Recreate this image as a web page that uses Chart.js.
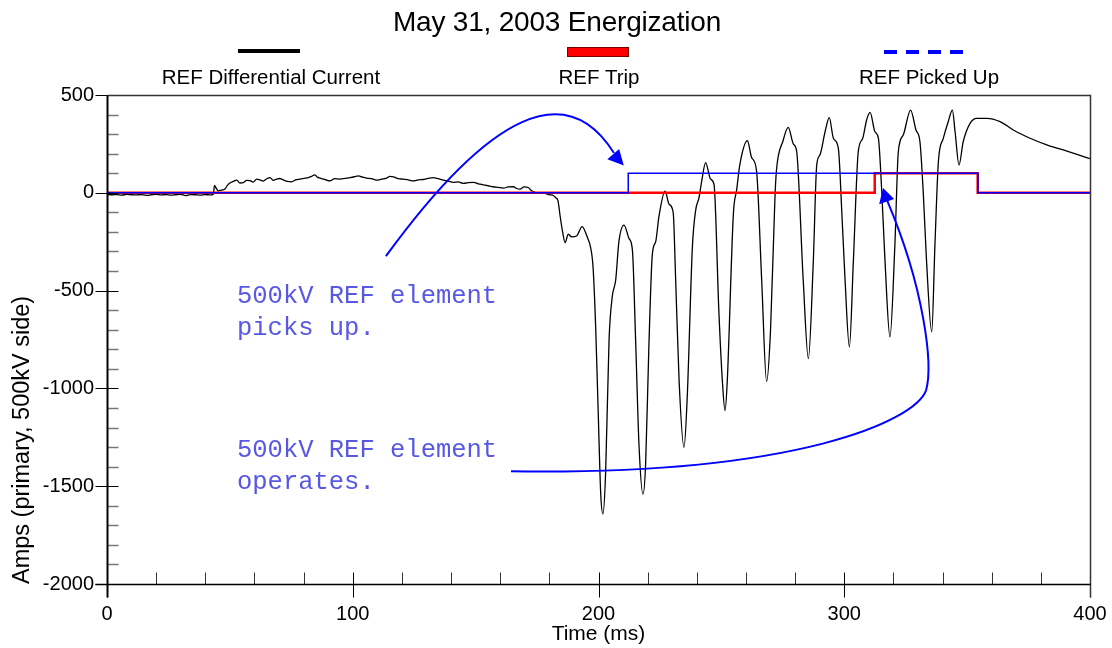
<!DOCTYPE html>
<html><head><meta charset="utf-8">
<script src="https://cdn.jsdelivr.net/npm/chart.js@4.4.1/dist/chart.umd.min.js"></script>
<style>
html,body{margin:0;padding:0;background:#fff;}
#wrap{position:relative;width:1112px;height:648px;overflow:hidden;}
#c{position:absolute;left:0;top:0;}
.t{position:absolute;font-family:"Liberation Sans",Arial,sans-serif;color:#000;white-space:nowrap;transform:translateX(-50%);line-height:1;}
.s{position:absolute;}
</style></head><body>
<div id="wrap">
<canvas id="c" width="1112" height="648"></canvas>
<div class="t" style="left:557px;top:8px;font-size:28px;letter-spacing:-0.2px;">May 31, 2003 Energization</div>
<div class="s" style="left:238px;top:49px;width:62px;height:4px;background:#000;"></div>
<div class="s" style="left:567px;top:47px;width:60px;height:8px;background:#ff0000;border:1px solid #700;"></div>
<div class="s" style="left:884px;top:50px;width:81px;height:4px;background:repeating-linear-gradient(to right,#0000ff 0 13px,transparent 13px 22px);"></div>
<div class="t" style="left:271px;top:67px;font-size:20.5px;">REF Differential Current</div>
<div class="t" style="left:599px;top:67px;font-size:20.5px;">REF Trip</div>
<div class="t" style="left:929px;top:67px;font-size:20.5px;">REF Picked Up</div>
</div>
<script>
// ---- data ----
const xTicks = [0, 100, 200, 300, 400];
const yTicks = [500, 0, -500, -1000, -1500, -2000];

const diffTime = [
 0,2,4,6,8,10,12,14,16,18,20,22,24,26,28,30,32,34,36,38,40,42,43.3,
 43.7,44.5,45.3,46.6,48.0,49.0,50.0,51.4,52.8,54.1,55.5,56.8,58.2,59.5,60.9,62.2,63.6,65.0,66.3,67.6,69.0,70.3,71.7,73.4,75.1,76.8,78.5,80.2,81.9,83.2,84.6,85.6,86.7,88.7,90.7,92.7,94.8,96.8,98.9,100.6,102.3,104.0,105.7,107.7,109.7,111.7,113.8,115.1,116.5,118.5,120.6,122.6,124.7,126.7,128.7,130.7,132.8,134.8,136.9,138.9,140.9,142.9,145.0,147.0,149.1,151.1,153.1,155.1,157.2,159.2,161.3,163.3,165.4,166.7,168.1,169.7,171.4,172.4,173.5,175.5,177.6,179.0,180.3,181.7,182.6,183.5,184.4,185.4,186.4,187.7,189.0,191.1,193.3,195.5,196.8,197.8,198.9,199.9,200.9,201.8,202.9,204.3,205.6,207.0,208.3,210.4,212.4,213.8,215.1,216.5,218.1,219.2,220.5,221.9,223.3,224.6,227.1,228.7,230.4,231.4,232.8,234.8,236.1,238.2,239.5,240.9,242.0,243.6,245.6,247.0,249.0,250.4,251.5,252.4,254.9,256.2,257.6,260.6,262.3,264.3,266.4,268.4,270.0,271.8,272.4,275.1,277.2,279.3,280.6,283.3,285.4,287.4,288.8,290.1,292.2,293.9,295.6,297.6,299.0,300.3,302.1,303.7,305.7,307.5,309.1,310.5,312.5,313.9,315.2,316.6,318.6,320.6,322.0,324.0,327.0,329.2,330.8,332.2,333.5,335.6,336.9,338.3,340.3,342.3,344.0,345.1,346.7,348.4,351.2,353.9,358.0,363.4,368.8,375.6,382.4,389.1,395.0,400
];
const diffAmps = [
 -8,-10,-9,-12,-8,-10,-11,-9,-13,-10,-8,-11,-9,-12,-10,-8,-14,-9,-10,-12,-9,-11,-7,
 38,22,10,14,19,38,50,58,65,50,52,64,62,55,70,66,60,72,78,64,70,73,66,58,56,66,70,74,78,84,92,80,75,68,61,72,70,74,78,82,87,80,75,72,65,70,75,84,82,72,70,66,61,66,68,74,78,72,65,60,53,56,48,52,53,46,41,36,31,28,24,30,31,22,19,30,27,14,5,0,-2,-6,-10,-15,-25,-40,-120,-200,-255,-212,-225,-221,-173,-229,-280,-383,-705,-1130,-1537,-1641,-1431,-752,-531,-446,-250,-165,-233,-293,-752,-1296,-1541,-1380,-786,-316,-248,-121,9,-58,-101,-446,-961,-1302,-1047,-279,-92,-25,60,154,70,43,-613,-961,-1114,-961,-105,14,150,266,181,113,-446,-965,-704,-25,113,266,334,249,215,-446,-848,-353,142,193,312,384,278,227,-97,-438,-788,-353,210,278,372,411,312,278,22,-353,-737,-268,210,295,423,321,261,-12,-353,-711,-268,159,278,363,423,312,142,261,355,381,381,364,321,279,245,219,195,175
];

const tripTime = [0, 312.4, 312.4, 354.3, 354.3, 400];
const tripVal  = [0, 0, 100, 100, 0, 0];
const pickTime = [0, 212.1, 212.1, 354.4, 354.4, 400];
const pickVal  = [0, 0, 100, 100, 0, 0];

// ---- annotations (data units) ----
const annoTexts = [
  {t: 52.9, v: [-529, -692], lines: ['500kV REF element', 'picks up.']},
  {t: 52.9, v: [-1317, -1478], lines: ['500kV REF element', 'operates.']}
];
const arrowPick = {quad: [[113.5,-324],[177.5,781],[206.3,203]], head: [[210.3,140],[203.6,172],[208.4,224]]};
const arrowTrip = {cubics: [
  [[164.4,-1424],[282.0,-1445],[328.8,-1163],[333.3,-1010]],
  [[333.3,-1010],[336.1,-882],[332.9,-498],[317.4,-37]]
], head: [[315.8,24],[314.2,-58],[320.3,-32]]};

const zip = (a,b) => a.map((x,i)=>({x, y:b[i]}));

const framePlugin = {
  id: 'frame',
  afterDatasetsDraw(chart) {
    const {ctx, chartArea: a, scales: {x, y}} = chart;
    const L = Math.round(a.left)+0.5, R = Math.round(a.right)+0.5, T = Math.round(a.top)+0.5, B = Math.round(a.bottom)+0.5;
    ctx.save();
    for (let v = -2000; v <= 500; v += 100) {
      const p = Math.round(y.getPixelForValue(v)) + 0.5;
      ctx.beginPath();
      if (v % 500 === 0) { ctx.strokeStyle = '#000'; ctx.lineWidth = 1; ctx.moveTo(L-12, p); ctx.lineTo(v===500||v===-2000 ? L : L+11, p); }
      else { ctx.strokeStyle = '#777'; ctx.lineWidth = 1.5; ctx.moveTo(L, p); ctx.lineTo(L+11, p); }
      ctx.stroke();
    }
    for (let t = 0; t <= 400; t += 20) {
      const p = Math.round(x.getPixelForValue(t)) + 0.5;
      ctx.beginPath();
      ctx.strokeStyle = t % 100 === 0 ? '#000' : '#333';
      ctx.lineWidth = 1;
      ctx.moveTo(p, B-12); ctx.lineTo(p, t % 100 === 0 ? B+13 : B);
      ctx.stroke();
    }
    ctx.strokeStyle = '#333'; ctx.lineWidth = 1.5;
    ctx.beginPath(); ctx.moveTo(L, T); ctx.lineTo(R, T); ctx.lineTo(R, B+13); ctx.stroke();
    ctx.strokeStyle = '#000'; ctx.lineWidth = 1.5;
    ctx.beginPath(); ctx.moveTo(L-12, B); ctx.lineTo(R, B); ctx.stroke();
    ctx.lineWidth = 2;
    ctx.beginPath(); ctx.moveTo(L, T); ctx.lineTo(L, B+13); ctx.stroke();
    ctx.restore();
  }
};

const annoPlugin = {
  id: 'anno',
  afterDraw(chart) {
    const {ctx, scales: {x, y}} = chart;
    const P = (pt) => [x.getPixelForValue(pt[0]), y.getPixelForValue(pt[1])];
    ctx.save();
    ctx.strokeStyle = '#0000ff'; ctx.fillStyle = '#0000ff'; ctx.lineWidth = 2;
    let q = arrowPick.quad.map(P);
    ctx.beginPath(); ctx.moveTo(...q[0]); ctx.quadraticCurveTo(...q[1], ...q[2]); ctx.stroke();
    let h = arrowPick.head.map(P);
    ctx.beginPath(); ctx.moveTo(...h[0]); ctx.lineTo(...h[1]); ctx.lineTo(...h[2]); ctx.closePath(); ctx.fill();
    ctx.beginPath();
    arrowTrip.cubics.forEach((c, i) => {
      const p = c.map(P);
      if (i === 0) ctx.moveTo(...p[0]);
      ctx.bezierCurveTo(...p[1], ...p[2], ...p[3]);
    });
    ctx.stroke();
    h = arrowTrip.head.map(P);
    ctx.beginPath(); ctx.moveTo(...h[0]); ctx.lineTo(...h[1]); ctx.lineTo(...h[2]); ctx.closePath(); ctx.fill();
    ctx.fillStyle = '#5858e4';
    ctx.font = '25.5px "Liberation Mono", "DejaVu Sans Mono", monospace';
    ctx.textBaseline = 'middle'; ctx.textAlign = 'left';
    annoTexts.forEach(a => a.lines.forEach((s, i) => ctx.fillText(s, x.getPixelForValue(a.t), y.getPixelForValue(a.v[i]))));
    ctx.restore();
  }
};

const font = {family: '"Liberation Sans", Arial, sans-serif', size: 20};

new Chart(document.getElementById('c'), {
  type: 'line',
  data: {
    datasets: [
      {label: 'REF Picked Up', data: zip(pickTime, pickVal), borderColor: '#0000ff', borderWidth: 1.5, pointRadius: 0, order: 0},
      {label: 'REF Trip', data: zip(tripTime, tripVal), borderColor: '#ff0000', borderWidth: 2.5, pointRadius: 0, order: 1},
      {label: 'REF Differential Current', data: zip(diffTime, diffAmps), borderColor: '#000', borderWidth: 1.3, pointRadius: 0, cubicInterpolationMode: 'monotone', order: 2}
    ]
  },
  options: {
    responsive: false, animation: false, devicePixelRatio: 1,
    layout: {padding: {top: 95, right: 22, left: 0, bottom: 0}},
    plugins: {legend: {display: false}, tooltip: {enabled: false}},
    scales: {
      x: {
        type: 'linear', min: 0, max: 400,
        afterBuildTicks: s => { s.ticks = xTicks.map(v => ({value: v})); },
        ticks: {font, color: '#000', padding: 10, maxRotation: 0, autoSkip: false, callback: v => String(v)},
        grid: {display: false}, border: {display: false},
        title: {display: true, text: 'Time (ms)', font: {...font, size: 21}, color: '#000', padding: {top: 0, bottom: 1}},
        afterFit: s => { s.height = 64; s.paddingLeft = 0; s.paddingRight = 0; }
      },
      y: {
        type: 'linear', min: -2000, max: 500,
        afterBuildTicks: s => { s.ticks = yTicks.map(v => ({value: v})); },
        ticks: {font, color: '#000', padding: 5, autoSkip: false, callback: v => String(v)},
        grid: {display: false}, border: {display: false},
        title: {display: true, text: 'Amps (primary, 500kV side)', font: {...font, size: 23.5}, color: '#000', align: 'start', padding: {top: 8, bottom: 0}},
        afterFit: s => { s.width = 107; s.paddingTop = 0; s.paddingBottom = 0; }
      }
    }
  },
  plugins: [framePlugin, annoPlugin]
});
</script>
</body></html>
